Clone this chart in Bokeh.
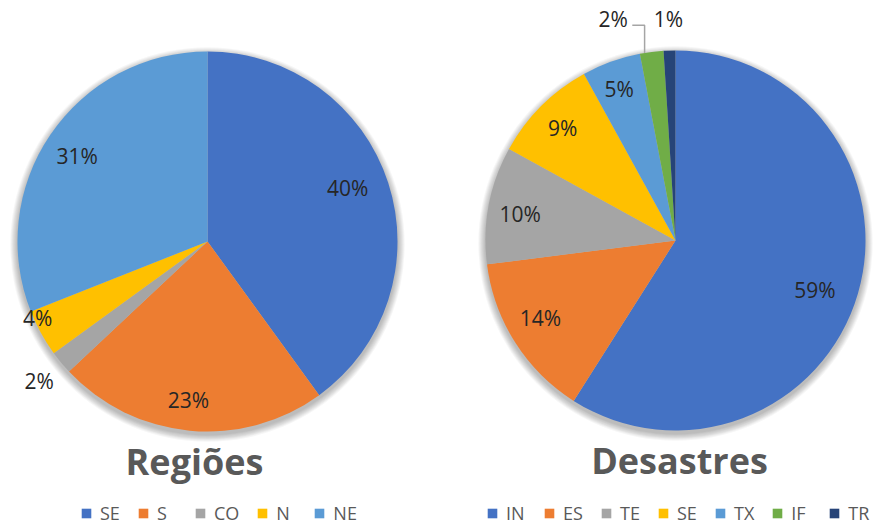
import numpy as np
from bokeh.plotting import figure
from bokeh.models import Range1d, ColumnDataSource, Legend, LegendItem
from bokeh.embed import file_html
from bokeh.resources import INLINE
from bokeh.core.properties import value

# ---- data ----
reg_title = "Regiões"
reg_cats = ["SE", "S", "CO", "N", "NE"]
reg_vals = [40, 23, 2, 4, 31]
reg_colors = ["#4472C4", "#ED7D31", "#A5A5A5", "#FFC000", "#5B9BD5"]

dis_title = "Desastres"
dis_cats = ["IN", "ES", "TE", "SE", "TX", "IF", "TR"]
dis_vals = [59, 14, 10, 9, 5, 2, 1]
dis_colors = ["#4472C4", "#ED7D31", "#A5A5A5", "#FFC000", "#5B9BD5", "#70AD47", "#264478"]

# ---- layout (label placement: radius fraction, angle offset deg) ----
reg_lab_rf = [0.79, 0.84, 1.15, 0.98, 0.82]
reg_lab_da = [-3, 1.5, 0, 4.5, -1]
dis_lab_rf = [0.78, 0.82, 0.83, 0.84, 0.85, 1.21, 1.165]
dis_lab_da = [3.5, 2.5, -1, 0, -0.6, -8.5, 0]

FONT = "Open Sans"
W, H = 875, 525
PAGE_H = 525

p = figure(width=W, height=H, x_range=Range1d(0, W), y_range=Range1d(PAGE_H - H, PAGE_H),
           output_backend="svg", toolbar_location=None, x_axis_location=None, y_axis_location=None,
           min_border=0)
p.grid.visible = False
p.outline_line_color = None
p.background_fill_color = "white"


def Y(yref):
    return PAGE_H - yref


def pie(cx, cy_ref, R, cats, vals, colors, lab_rf, lab_da, title, title_x, title_mid, leg_x, leg_spacing,
        leaders=()):
    cy = Y(cy_ref)
    vals = np.array(vals, dtype=float)
    frac = vals / vals.sum()
    after = np.cumsum(frac)
    before = after - frac
    # soft shadow
    for k in range(1, 9):
        p.circle(x=cx, y=cy - 3, radius=R + k * 0.9, fill_color="black", fill_alpha=0.035, line_color=None)
    src = ColumnDataSource(dict(
        cat=cats, color=colors,
        start=np.pi / 2 - 2 * np.pi * after,
        end=np.pi / 2 - 2 * np.pi * before,
    ))
    r = p.wedge(x=cx, y=cy, radius=R, start_angle="start", end_angle="end", direction="anticlock",
                fill_color="color", line_color=None, source=src)
    # labels
    mid = 2 * np.pi * (before + frac / 2) + np.radians(lab_da)
    rr = R * np.array(lab_rf)
    lx = cx + rr * np.sin(mid)
    ly = cy + rr * np.cos(mid)
    texts = [f"{int(round(v))}%" for v in vals]
    p.text(x=lx, y=ly, text=texts, text_align="center", text_baseline="middle",
           text_font=value(FONT), text_font_size="21px", text_color="#262626")
    # leader lines
    for i in leaders:
        ang = 2 * np.pi * (before[i] + frac[i] * 0.2)
        axp = cx + R * np.sin(ang)
        ayp = cy + R * np.cos(ang)
        yl = ly[i] - 6
        p.line(x=[lx[i] + 19, axp, axp], y=[yl, yl, ayp], line_color="#A5A5A5", line_width=1.5)
    # title
    p.text(x=[title_x], y=[Y(title_mid)], text=[title], text_align="center", text_baseline="middle",
           text_font=value(FONT), text_font_size="36px", text_font_style="bold", text_color="#595959")
    # legend
    items = [LegendItem(label=c, renderers=[r], index=i) for i, c in enumerate(cats)]
    leg = Legend(items=items, orientation="horizontal", location=(leg_x, 0),
                 glyph_width=12, glyph_height=12, label_standoff=8, spacing=leg_spacing,
                 padding=0, margin=0, label_text_font=FONT, label_text_font_size="18px",
                 label_height=12, label_text_color="#595959", border_line_color=None,
                 background_fill_alpha=0)
    p.add_layout(leg)


pie(207, 241, 190, reg_cats, reg_vals, reg_colors, reg_lab_rf, reg_lab_da, reg_title, 194, 461, 80, 17)
pie(675, 240, 190, dis_cats, dis_vals, dis_colors, dis_lab_rf, dis_lab_da, dis_title, 679, 460, 486, 17,
    leaders=(5,))

open("out.html", "w").write(file_html(p, INLINE))
